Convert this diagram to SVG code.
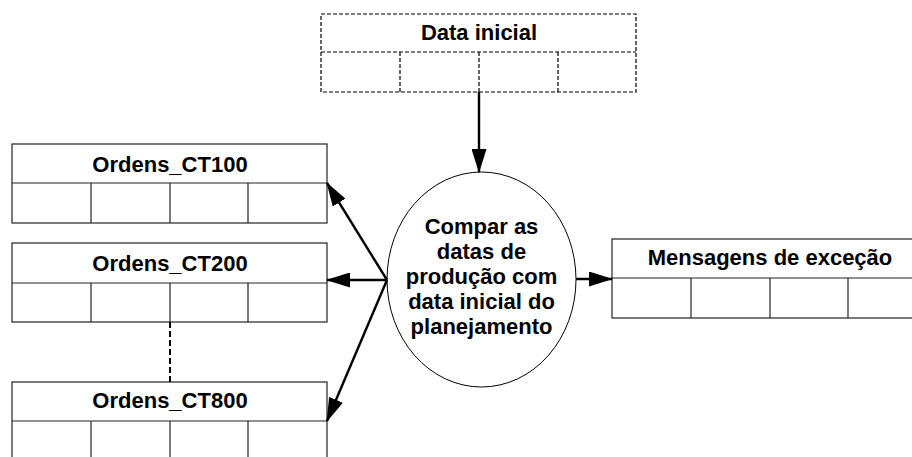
<svg xmlns="http://www.w3.org/2000/svg" width="912" height="457" viewBox="0 0 912 457">
<style>
.box{fill:#fff;stroke:#222;stroke-width:1.2}
.dbox{fill:#fff;stroke:#000;stroke-width:1.2;stroke-dasharray:4,2}
.ln{stroke:#222;stroke-width:1.2;fill:none}
.dln{stroke:#000;stroke-width:1.2;fill:none;stroke-dasharray:4,2}
.t{font-family:"Liberation Sans",Arial,sans-serif;font-weight:bold;font-size:22px;fill:#000;text-anchor:middle}
.c{stroke:#000;stroke-width:2.4;fill:none;marker-end:url(#ah)}
</style>
<defs>
<marker id="ah" markerWidth="24" markerHeight="15" refX="23" refY="7.5" orient="auto" markerUnits="userSpaceOnUse">
<path d="M0,0 L24,7.5 L0,15 Z" fill="#000"/>
</marker>
</defs>
<rect width="912" height="457" fill="#fff"/>
<g id="data-inicial">
<rect class="dbox" x="321" y="14" width="315" height="78"/>
<path class="dln" d="M321,52H636M400,52V92M479,52V92M558,52V92"/>
<text class="t" x="479" y="40">Data inicial</text>
</g>
<g id="ordens-ct100">
<rect class="box" x="12" y="144" width="315" height="79"/>
<path class="ln" d="M12,183H327M91,183V223M170,183V223M248,183V223"/>
<text class="t" x="170" y="172">Ordens_CT100</text>
</g>
<g id="ordens-ct200">
<rect class="box" x="12" y="243" width="315" height="79"/>
<path class="ln" d="M12,283H327M91,283V322M170,283V322M248,283V322"/>
<text class="t" x="170" y="271">Ordens_CT200</text>
</g>
<g id="ordens-ct800">
<rect class="box" x="12" y="382" width="315" height="79"/>
<path class="ln" d="M12,421H327M91,421V461M170,421V461M248,421V461"/>
<text class="t" x="170" y="408">Ordens_CT800</text>
</g>
<g id="mensagens">
<rect class="box" x="612" y="239" width="315" height="79"/>
<path class="ln" d="M612,278H927M691,278V318M770,278V318M848,278V318"/>
<text class="t" x="770" y="265">Mensagens de exceção</text>
</g>
<g id="processo">
<ellipse cx="481.5" cy="279.5" rx="94.5" ry="107.5" fill="#fff" stroke="#000" stroke-width="1"/>
<text class="t" x="481.5" y="234">Compar as</text>
<text class="t" x="481.5" y="259">datas de</text>
<text class="t" x="481.5" y="284">produção com</text>
<text class="t" x="481.5" y="309">data inicial do</text>
<text class="t" x="481.5" y="334">planejamento</text>
</g>
<g id="connectors">
<path class="c" d="M479,92V172"/>
<path class="c" d="M387,280L327,183"/>
<path class="c" d="M387,280L327,280"/>
<path class="c" d="M387,280L327,421"/>
<path class="c" d="M576,279L612,279"/>
<path d="M170,322V382" stroke="#000" stroke-width="2" stroke-dasharray="6,3" fill="none"/>
</g>
</svg>
